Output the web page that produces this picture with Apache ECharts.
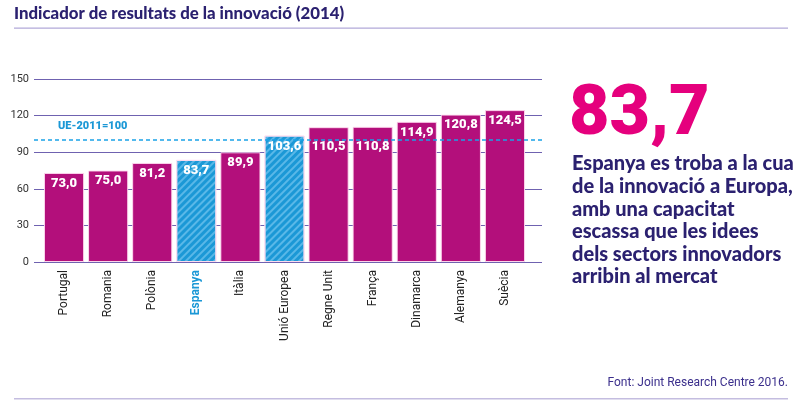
<!DOCTYPE html>
<html>
<head>
<meta charset="utf-8">
<script src="https://cdn.jsdelivr.net/npm/echarts@6/dist/echarts.min.js"></script>
<style>
html,body{margin:0;padding:0;background:#fff;}
#c{width:800px;height:402px;}
</style>
</head>
<body>
<div id="c"></div>
<script>
var categories = ['Portugal','Romania','Polònia','Espanya','Itàlia','Unió Europea','Regne Unit','França','Dinamarca','Alemanya','Suècia'];
var values = [73.0, 75.0, 81.2, 83.7, 89.9, 103.6, 110.5, 110.8, 114.9, 120.8, 124.5];
var highlighted = ['Espanya','Unió Europea'];
var referenceValue = 100;
var referenceLabel = 'UE-2011=100';
var yTicks = [0, 30, 60, 90, 120, 150];
var titleText = 'Indicador de resultats de la innovació (2014)';
var bigNumber = '83,7';
var sideLines = ['Espanya es troba a la cua','de la innovació a Europa,','amb una capacitat','escassa que les idees','dels sectors innovadors','arribin al mercat'];
var sourceText = 'Font: Joint Research Centre 2016.';

var NAVY = '#2b2170';
var MAGENTA = '#b30f7b';
var BLUE = '#1b98d6';
var GRID = '#6f62b0';
var FONT = 'Roboto, "Liberation Sans", sans-serif';
var HEAVY = 'Lato, Roboto, sans-serif';

var GRID_TOP = 79, GRID_BOTTOM = 140, H = 402;
var pxPerUnit = (H - GRID_TOP - GRID_BOTTOM) / (yTicks[yTicks.length - 1] - yTicks[0]);

function fmt(v){ return v.toFixed(1).replace('.', ','); }

var barData = values.map(function(v, i){
  var hl = highlighted.indexOf(categories[i]) >= 0;
  // push the label below the reference line when it would overlap it
  var gap = (v - referenceValue) * pxPerUnit;
  var top = 4;
  if (gap > 0 && gap < 16) top = gap;
  return {
    value: v,
    label: { position: ['50%', top] },
    itemStyle: hl ? {
      color: BLUE,
      decal: {
        symbol: 'rect',
        color: 'rgba(140,210,245,0.55)',
        dashArrayX: [1, 0],
        dashArrayY: [1.5, 2.5],
        rotation: -Math.PI / 4
      }
    } : { color: MAGENTA }
  };
});

var chart = echarts.init(document.getElementById('c'), null, {renderer: 'canvas'});
var sideGraphics = sideLines.map(function(t, i){
  return {
    type: 'text', left: 572, top: 154 + i * 22.6,
    style: { text: t, fill: NAVY, font: '900 20px ' + HEAVY }
  };
});

chart.setOption({
  animation: false,
  backgroundColor: '#ffffff',
  grid: [
    { left: 34, right: 258, top: GRID_TOP, bottom: GRID_BOTTOM },
    { left: 42, width: 485, top: GRID_TOP, bottom: GRID_BOTTOM }
  ],
  xAxis: [
    { gridIndex: 0, type: 'value', min: 0, max: 1, show: false },
    {
      gridIndex: 1, type: 'category', data: categories,
      axisLine: { show: false }, axisTick: { show: false },
      axisLabel: {
        rotate: 90, margin: 8, fontSize: 12, color: '#222', fontFamily: FONT,
        formatter: function(v){ return highlighted[0] === v ? '{hl|' + v + '}' : v; },
        rich: { hl: { color: BLUE, fontWeight: 'bold', fontSize: 12, fontFamily: FONT } }
      }
    }
  ],
  yAxis: [
    {
      gridIndex: 0, type: 'value', min: yTicks[0], max: yTicks[yTicks.length - 1], interval: yTicks[1] - yTicks[0],
      axisLine: { show: false }, axisTick: { show: false },
      axisLabel: { margin: 5, fontSize: 11, color: '#333', fontFamily: FONT },
      splitLine: { lineStyle: { color: GRID, width: 1.2 } }
    },
    {
      gridIndex: 1, type: 'value', min: yTicks[0], max: yTicks[yTicks.length - 1], show: false
    }
  ],
  series: [
    {
      type: 'bar', xAxisIndex: 1, yAxisIndex: 1, data: barData,
      barCategoryGap: '9%', z: 2,
      itemStyle: { borderColor: 'rgba(255,220,240,0.9)', borderWidth: 1 },
      label: {
        show: true, align: 'center', verticalAlign: 'top',
        color: '#fff', fontWeight: 900, fontSize: 13, fontFamily: FONT,
        formatter: function(p){ return fmt(p.value); }
      }
    },
    {
      type: 'line', xAxisIndex: 0, yAxisIndex: 0, z: 5,
      data: [[0, referenceValue], [1, referenceValue]],
      symbol: 'none',
      lineStyle: { color: '#1aa3e8', width: 1.6, type: [4, 3] }
    }
  ],
  graphic: [
    { type: 'text', left: 14, top: 5, style: { text: titleText, fill: NAVY, font: '900 16.8px ' + HEAVY } },
    { type: 'rect', shape: { x: 14, y: 27.5, width: 774, height: 1.2 }, style: { fill: '#b2a9d9' } },
    { type: 'rect', shape: { x: 14, y: 398, width: 774, height: 1.5 }, style: { fill: '#c4bde0' } },
    { type: 'text', left: 58, top: 121, style: { text: referenceLabel, fill: BLUE, font: '900 11px ' + FONT } },
    { type: 'text', left: 569, top: 81, style: { text: bigNumber, fill: '#e5007d', font: '900 70px ' + FONT } },
    { type: 'text', right: 12, top: 377, style: { text: sourceText, fill: '#3b2f8c', font: '12px ' + FONT } }
  ].concat(sideGraphics)
});
</script>
</body>
</html>
